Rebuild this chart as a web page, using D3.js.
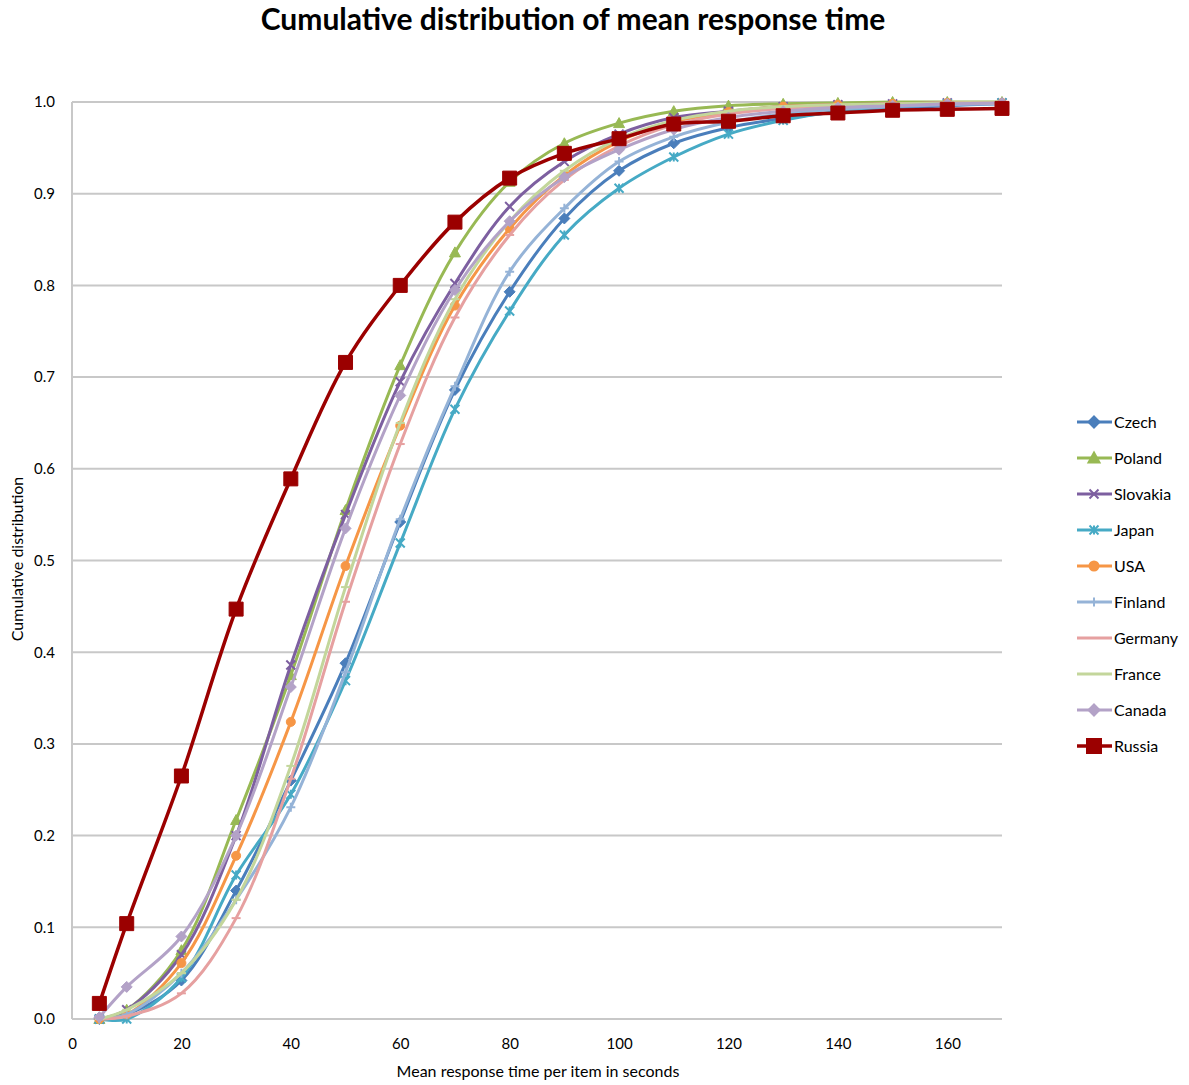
<!DOCTYPE html>
<html>
<head>
<meta charset="utf-8">
<script src="https://cdn.jsdelivr.net/npm/d3@7"></script>
<style>
  body { margin: 0; background: #fff; }
  text { font-family: Lato, "Open Sans", sans-serif; fill: #000; }
</style>
</head>
<body>
<script>
// x positions (seconds) shared by all series
var times = [5, 10, 20, 30, 40, 50, 60, 70, 80, 90, 100, 110, 120, 130, 140, 150, 160, 170];

// cumulative share per country
var czech    = [0.000, 0.005, 0.042, 0.140, 0.260, 0.388, 0.542, 0.686, 0.793, 0.873, 0.925, 0.955, 0.972, 0.982, 0.989, 0.993, 0.996, 0.998];
var poland   = [0.000, 0.010, 0.075, 0.217, 0.375, 0.555, 0.713, 0.836, 0.913, 0.955, 0.977, 0.990, 0.996, 0.998, 0.999, 1.000, 1.000, 1.000];
var slovakia = [0.000, 0.010, 0.070, 0.200, 0.386, 0.550, 0.695, 0.802, 0.886, 0.935, 0.965, 0.983, 0.990, 0.995, 0.997, 0.998, 0.999, 0.999];
var japan    = [0.000, 0.000, 0.045, 0.157, 0.245, 0.369, 0.519, 0.665, 0.772, 0.855, 0.906, 0.940, 0.965, 0.980, 0.990, 0.995, 0.998, 0.999];
var usa      = [0.000, 0.005, 0.061, 0.178, 0.324, 0.494, 0.647, 0.778, 0.862, 0.920, 0.957, 0.978, 0.989, 0.995, 0.997, 0.998, 0.999, 0.999];
var finland  = [0.000, 0.005, 0.050, 0.130, 0.231, 0.378, 0.545, 0.690, 0.815, 0.884, 0.935, 0.962, 0.978, 0.987, 0.992, 0.995, 0.997, 0.998];
var germany  = [0.000, 0.003, 0.028, 0.110, 0.262, 0.455, 0.627, 0.765, 0.855, 0.915, 0.952, 0.975, 0.987, 0.993, 0.996, 0.998, 0.999, 0.999];
var france   = [0.000, 0.010, 0.050, 0.130, 0.276, 0.471, 0.650, 0.785, 0.870, 0.925, 0.960, 0.980, 0.990, 0.995, 0.997, 0.998, 0.999, 0.999];
var canada   = [0.002, 0.035, 0.090, 0.200, 0.362, 0.535, 0.680, 0.795, 0.870, 0.918, 0.948, 0.970, 0.983, 0.990, 0.994, 0.996, 0.998, 0.999];
var russia   = [0.017, 0.104, 0.265, 0.447, 0.589, 0.716, 0.800, 0.869, 0.917, 0.944, 0.960, 0.976, 0.979, 0.985, 0.988, 0.991, 0.992, 0.993];

var names  = ["Czech", "Poland", "Slovakia", "Japan", "USA", "Finland", "Germany", "France", "Canada", "Russia"];
var values = [czech, poland, slovakia, japan, usa, finland, germany, france, canada, russia];
var colors = ["#4a7ebb", "#98b954", "#7d5fa0", "#46aac5", "#f69646", "#95b3d7", "#e6a0a0", "#c3d69b", "#b3a2c7", "#9b0000"];
var shapes = ["diamond", "triangle", "times", "asterisk", "circle", "plus", "dash", "dash", "diamond", "square"];

var xTicks = [0, 20, 40, 60, 80, 100, 120, 140, 160];
var yTicks = [0, 0.1, 0.2, 0.3, 0.4, 0.5, 0.6, 0.7, 0.8, 0.9, 1.0];

var width = 1189, height = 1085;
// plot box ("top" is taken by window.top, so prefixed names)
var plotL = 72, plotR = 1002, plotT = 102, plotB = 1019;

var svg = d3.select("body").append("svg")
  .attr("width", width)
  .attr("height", height);

var x = d3.scaleLinear().domain([0, 170]).range([plotL, plotR]);
var y = d3.scaleLinear().domain([0, 1]).range([plotB, plotT]);

// grid lines
svg.append("g").selectAll("line")
  .data(yTicks)
  .join("line")
  .attr("x1", plotL)
  .attr("x2", plotR)
  .attr("y1", d => y(d))
  .attr("y2", d => y(d))
  .attr("stroke", "#c8c8c8")
  .attr("stroke-width", 2);

// left axis line
svg.append("line")
  .attr("x1", plotL).attr("x2", plotL)
  .attr("y1", plotT).attr("y2", plotB)
  .attr("stroke", "#c8c8c8")
  .attr("stroke-width", 2);

// y axis labels
var yAxis = d3.axisLeft(y).tickValues(yTicks).tickFormat(d3.format(".1f")).tickSize(0).tickPadding(17);
var gy = svg.append("g").attr("transform", "translate(" + plotL + ",0)").call(yAxis);
gy.select(".domain").remove();
gy.selectAll("text").style("font-family", "Lato, sans-serif").style("font-size", "15px").attr("fill", "#000");

// x axis labels
var xAxis = d3.axisBottom(x).tickValues(xTicks).tickSize(0).tickPadding(19);
var gx = svg.append("g").attr("transform", "translate(0," + plotB + ")").call(xAxis);
gx.select(".domain").remove();
gx.selectAll("text").style("font-family", "Lato, sans-serif").style("font-size", "15px").attr("fill", "#000");

// marker shapes
function markerPath(shape, size) {
  var h = size / 2;
  if (shape == "diamond") return "M0," + (-h - 1) + "L" + (h + 1) + ",0L0," + (h + 1) + "L" + (-h - 1) + ",0Z";
  if (shape == "triangle") return "M0," + (-h - 1) + "L" + (h + 1) + "," + (h) + "L" + (-h - 1) + "," + (h) + "Z";
  if (shape == "square") return "M" + (-h) + "," + (-h) + "H" + h + "V" + h + "H" + (-h) + "Z";
  if (shape == "circle") return d3.symbol(d3.symbolCircle, Math.PI * h * h)();
  if (shape == "times") return "M" + (-h) + "," + (-h) + "L" + h + "," + h + "M" + (-h) + "," + h + "L" + h + "," + (-h);
  if (shape == "asterisk") return "M" + (-h) + "," + (-h) + "L" + h + "," + h + "M" + (-h) + "," + h + "L" + h + "," + (-h) + "M0," + (-h) + "V" + h;
  if (shape == "plus") return "M" + (-h) + ",0H" + h + "M0," + (-h) + "V" + h;
  if (shape == "dash") return "M" + (-h) + ",0H" + h;
}

var line = d3.line()
  .x((d, i) => x(times[i]))
  .y(d => y(d))
  .curve(d3.curveCatmullRom.alpha(0.5));

for (var i = 0; i < names.length; i++) {
  var isRussia = names[i] == "Russia";
  var g = svg.append("g").attr("class", "series");
  g.append("path")
    .attr("d", line(values[i]))
    .attr("fill", "none")
    .attr("stroke", colors[i])
    .attr("stroke-width", isRussia ? 3.5 : 3);

  var size = isRussia ? 14 : 9;
  g.selectAll("path.mark")
    .data(values[i])
    .join("path")
    .attr("class", "mark")
    .attr("transform", (d, j) => "translate(" + x(times[j]) + "," + y(d) + ")")
    .attr("d", markerPath(shapes[i], size))
    .attr("fill", colors[i])
    .attr("stroke", colors[i])
    .attr("stroke-width", (shapes[i] == "times" || shapes[i] == "asterisk" || shapes[i] == "plus" || shapes[i] == "dash") ? 2 : 1);
}

// legend
var legend = svg.append("g");
for (var i = 0; i < names.length; i++) {
  var ly = 422 + i * 36;
  var isRussia = names[i] == "Russia";
  legend.append("line")
    .attr("x1", 1077).attr("x2", 1112)
    .attr("y1", ly).attr("y2", ly)
    .attr("stroke", colors[i])
    .attr("stroke-width", isRussia ? 3.5 : 3);
  legend.append("path")
    .attr("transform", "translate(1094," + ly + ")")
    .attr("d", markerPath(shapes[i], isRussia ? 14 : 9))
    .attr("fill", colors[i])
    .attr("stroke", colors[i])
    .attr("stroke-width", 2);
  legend.append("text")
    .attr("x", 1114)
    .attr("y", ly + 6)
    .style("font-size", "16px")
    .text(names[i]);
}

// title
svg.append("text")
  .attr("x", 573)
  .attr("y", 30)
  .attr("text-anchor", "middle")
  .style("font-size", "30px")
  .style("font-weight", "bold")
  .text("Cumulative distribution of mean response time");

// axis titles
svg.append("text")
  .attr("x", 538)
  .attr("y", 1077)
  .attr("text-anchor", "middle")
  .style("font-size", "16px")
  .text("Mean response time per item in seconds");

svg.append("text")
  .attr("transform", "translate(23,559) rotate(-90)")
  .attr("text-anchor", "middle")
  .style("font-size", "16px")
  .text("Cumulative distribution");
</script>
</body>
</html>
